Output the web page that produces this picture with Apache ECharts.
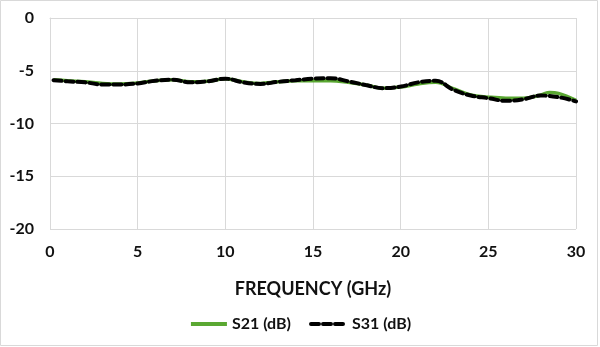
<!DOCTYPE html>
<html>
<head>
<meta charset="utf-8">
<script src="https://cdn.jsdelivr.net/npm/echarts@6/dist/echarts.min.js"></script>
<style>
html, body { margin: 0; padding: 0; background: #fff; }
#main { width: 600px; height: 347px; }
</style>
</head>
<body>
<div id="main"></div>
<script>
// frequency points (GHz)
var freqS21 = [0.2, 1, 2, 3, 4, 5, 6, 7, 8, 9, 10, 11, 12, 13, 14, 15, 16, 17, 18, 19, 20, 21, 22, 23, 24, 25, 26, 27, 28, 28.5, 29, 30];
var s21 = [-5.85, -5.95, -6.05, -6.2, -6.25, -6.15, -5.95, -5.85, -6.05, -6.0, -5.75, -6.05, -6.2, -6.05, -5.95, -5.95, -5.95, -6.1, -6.35, -6.65, -6.55, -6.25, -6.1, -6.7, -7.3, -7.5, -7.6, -7.6, -7.3, -7.05, -7.15, -7.8];

var freqS31 = [0.2, 1, 2, 3, 4, 5, 6, 7, 8, 9, 10, 11, 12, 13, 14, 15, 16, 17, 18, 19, 20, 21, 22, 23, 24, 25, 26, 27, 28, 29, 30];
var s31 = [-5.9, -6.0, -6.1, -6.3, -6.3, -6.2, -5.95, -5.85, -6.1, -6.0, -5.75, -6.1, -6.25, -6.05, -5.9, -5.75, -5.7, -6.0, -6.35, -6.65, -6.5, -6.1, -5.95, -6.8, -7.35, -7.6, -7.85, -7.7, -7.35, -7.5, -7.9];

function pairs(xs, ys) {
    var out = [];
    for (var i = 0; i < xs.length; i++) out.push([xs[i], ys[i]]);
    return out;
}

var font = 'Lato, "Open Sans", sans-serif';
var chart = echarts.init(document.getElementById('main'));
chart.setOption({
    backgroundColor: '#fff',
    animation: false,
    graphic: [{
        type: 'rect',
        shape: {x: 0.5, y: 0.5, width: 597, height: 345},
        style: {fill: 'none', stroke: '#d9d9d9', lineWidth: 1}
    }],
    grid: {left: 50, right: 24, top: 18, bottom: 118},
    legend: {
        bottom: 10,
        left: 'center',
        itemWidth: 36,
        itemHeight: 12,
        itemGap: 18,
        itemStyle: {opacity: 0},
        lineStyle: {width: 4},
        textStyle: {fontFamily: font, fontWeight: 'bold', fontSize: 16, color: '#111'},
        data: ['S21 (dB)', 'S31 (dB)']
    },
    xAxis: {
        type: 'value',
        min: 0, max: 30, interval: 5,
        name: 'FREQUENCY (GHz)',
        nameLocation: 'middle',
        nameGap: 51,
        nameTextStyle: {fontFamily: font, fontWeight: 'bold', fontSize: 18, color: '#111'},
        axisLine: {lineStyle: {color: '#d9d9d9', width: 1}},
        axisTick: {show: false},
        axisLabel: {margin: 15, fontFamily: font, fontWeight: 'bold', fontSize: 16, color: '#111'},
        splitLine: {show: true, lineStyle: {color: '#d9d9d9', width: 1}}
    },
    yAxis: {
        type: 'value',
        min: -20, max: 0, interval: 5,
        axisLine: {show: true, lineStyle: {color: '#d9d9d9', width: 1}},
        axisTick: {show: false},
        axisLabel: {margin: 16, fontFamily: font, fontWeight: 'bold', fontSize: 16, color: '#111'},
        splitLine: {show: true, lineStyle: {color: '#d9d9d9', width: 1}}
    },
    series: [{
        name: 'S21 (dB)',
        type: 'line',
        smooth: 0.4,
        showSymbol: false,
        symbol: 'none',
        lineStyle: {color: '#5aa832', width: 3.5},
        itemStyle: {color: '#5aa832'},
        data: pairs(freqS21, s21)
    }, {
        name: 'S31 (dB)',
        type: 'line',
        smooth: 0.4,
        showSymbol: false,
        symbol: 'none',
        lineStyle: {color: '#000', width: 4, type: [8, 4], cap: 'round'},
        itemStyle: {color: '#000'},
        data: pairs(freqS31, s31)
    }]
});
</script>
</body>
</html>
